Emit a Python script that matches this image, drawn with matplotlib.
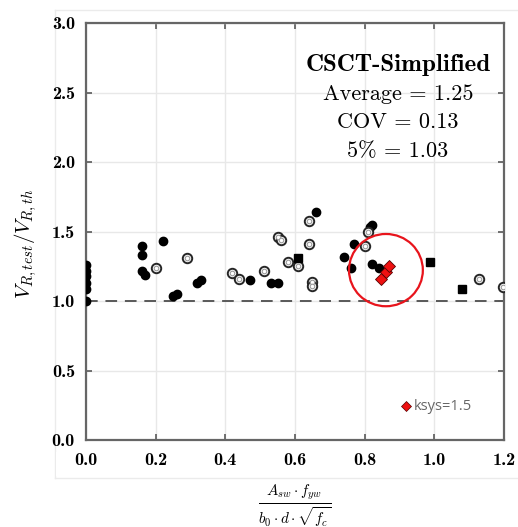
import matplotlib
matplotlib.use("Agg")
import matplotlib.pyplot as plt
from matplotlib.patches import Ellipse, Rectangle
from matplotlib.lines import Line2D

plt.rcParams["mathtext.fontset"] = "cm"
plt.rcParams["font.family"] = "serif"
plt.rcParams["font.serif"] = ["cmr10", "DejaVu Serif"]
plt.rcParams["axes.formatter.use_mathtext"] = True

# --- data ---
filled_x = [0.0, 0.0, 0.0, 0.0, 0.0, 0.0, 0.16, 0.16, 0.16, 0.17, 0.22, 0.25, 0.26,
            0.32, 0.33, 0.47, 0.53, 0.55, 0.66, 0.74, 0.76, 0.77, 0.815, 0.82, 0.82, 0.84]
filled_y = [1.26, 1.22, 1.18, 1.13, 1.09, 1.0, 1.40, 1.33, 1.22, 1.19, 1.43, 1.035, 1.05,
            1.13, 1.15, 1.15, 1.13, 1.13, 1.64, 1.32, 1.24, 1.41, 1.535, 1.55, 1.27, 1.24]

open_x = [0.20, 0.29, 0.42, 0.44, 0.51, 0.55, 0.56, 0.58, 0.61, 0.64, 0.64, 0.65, 0.65,
          0.80, 0.81, 1.128, 1.198]
open_y = [1.235, 1.31, 1.20, 1.16, 1.215, 1.46, 1.44, 1.28, 1.25, 1.58, 1.41, 1.14, 1.11,
          1.40, 1.50, 1.16, 1.10]

square_x = [0.61, 0.988, 1.078]
square_y = [1.31, 1.28, 1.086]

ksys_x = [0.847, 0.86, 0.87]
ksys_y = [1.156, 1.21, 1.25]

stats_lines = ["Average = 1.25", "COV = 0.13", "5% = 1.03"]
xticks = [0.0, 0.2, 0.4, 0.6, 0.8, 1.0, 1.2]
yticks = [0.0, 0.5, 1.0, 1.5, 2.0, 2.5, 3.0]

fig = plt.figure(figsize=(5.18, 5.27), dpi=100)
ax = fig.add_axes([0.166, 0.165, 0.807, 0.791])

ax.set_xlim(0, 1.2)
ax.set_ylim(0, 3.0)
ax.set_xticks(xticks)
ax.set_yticks(yticks)
ax.set_xticklabels([f"{v:.1f}" for v in xticks], family="cmb10", fontsize=13)
ax.set_yticklabels([f"{v:.1f}" for v in yticks], family="cmb10", fontsize=13)
ax.grid(True, color="0.91", lw=1.0)
ax.set_axisbelow(True)
ax.tick_params(direction="in", top=True, right=True, length=4, width=1.2, color="0.35")
ax.tick_params(axis="y", pad=8)
ax.tick_params(axis="x", pad=9)
for s in ax.spines.values():
    s.set_color("0.4")
    s.set_linewidth(1.6)

ax.axhline(1.0, color="0.35", ls=(0, (6, 4)), lw=1.4, zorder=2)

ax.plot(filled_x, filled_y, "o", color="black", ms=6, zorder=3)
ax.plot(open_x, open_y, "o", mfc="white", mec="0.15", mew=1.4, ms=6.8, zorder=3)
ax.plot(open_x, open_y, "o", mfc="white", mec="0.6", mew=0.8, ms=3.3, zorder=3)
ax.plot(square_x, square_y, "s", color="black", ms=6.3, zorder=3)
ax.plot(ksys_x, ksys_y, "D", mfc="#ee1111", mec="#550000", mew=0.6, ms=6.3, zorder=4)

ax.add_patch(Ellipse((0.861, 1.223), 0.212, 0.52, fill=False, ec="#e8141c", lw=1.6, zorder=5))

# legend
ax.plot([0.92], [0.245], "D", mfc="#ee1111", mec="#550000", mew=0.5, ms=5.5, zorder=4)
ax.text(0.94, 0.245, "ksys=1.5", family="Open Sans", fontsize=10.5, color="#666666",
        ha="left", va="center")

ax.text(0.896, 2.70, "CSCT-Simplified", family="cmb10", fontsize=18, ha="center", va="center")
for yy, s in zip([2.49, 2.285, 2.076], stats_lines):
    ax.text(0.896, yy, s, fontsize=16, ha="center", va="center")

ax.set_ylabel(r"$V_{R,test}/V_{R,th}$", fontsize=15)
ax.yaxis.set_label_coords(-0.112, 0.472)
ax.set_xlabel(r"$\frac{A_{sw}\cdot f_{yw}}{b_0\cdot d\cdot\sqrt{f_c}}$", fontsize=15.5)
ax.xaxis.set_label_coords(0.5, -0.156)
ax.xaxis.label.set_va("center")

# faint screenshot border (behind the text) and mask over the clipped x tick
for xs, ys in [([55/518, 1.0], [1-10/527, 1-10/527]),
               ([55/518, 55/518], [1-10/527, 1-478/527]),
               ([55/518, 1.0], [1-478/527, 1-478/527])]:
    fig.add_artist(Line2D(xs, ys, color="0.92", lw=1.0, zorder=-1))
fig.add_artist(Rectangle((56/518, 1-476/527), 17/518, 24/527, transform=fig.transFigure,
                         fc="white", ec="none", zorder=10))

fig.savefig("out.png", dpi=100)
